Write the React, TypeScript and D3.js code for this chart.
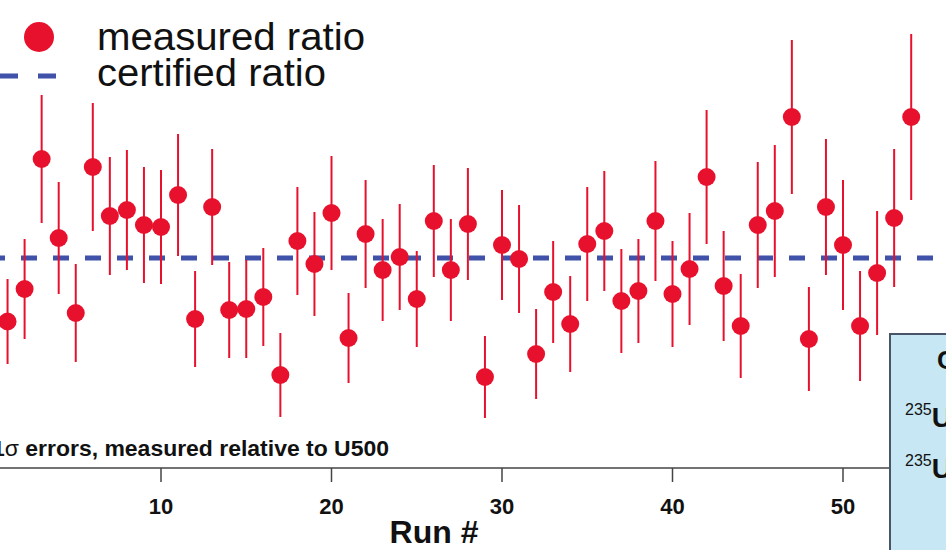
import React, { useEffect, useRef } from 'react';
import * as d3 from 'd3';

// run numbers and measured deviation from the certified ratio (arbitrary units)
const runs = d3.range(1, 55);
const measured = [
  -1.27, -0.62, 1.98, 0.40, -1.10, 1.82, 0.84, 0.96, 0.66, 0.62,
  1.26, -1.22, 1.02, -1.04, -1.02, -0.78, -2.34, 0.34, -0.12, 0.90,
  -1.60, 0.48, -0.24, 0.02, -0.82, 0.74, -0.24, 0.68, -2.38, 0.26,
  -0.02, -1.92, -0.68, -1.32, 0.28, 0.54, -0.86, -0.66, 0.74, -0.72,
  -0.22, 1.62, -0.56, -1.36, 0.66, 0.94, 2.82, -1.62, 1.02, 0.26,
  -1.36, -0.30, 0.80, 2.82,
];
const errors = [
  0.85, 1.00, 1.28, 1.12, 0.98, 1.28, 1.18, 1.20, 1.16, 1.14,
  1.22, 0.96, 1.16, 0.96, 0.98, 0.98, 0.84, 1.08, 1.04, 1.14,
  0.90, 1.08, 1.02, 1.06, 0.96, 1.12, 1.02, 1.12, 0.82, 1.10,
  1.08, 0.90, 1.02, 0.96, 1.14, 1.20, 1.04, 1.04, 1.20, 1.06,
  1.12, 1.34, 1.10, 1.04, 1.26, 1.32, 1.54, 1.04, 1.36, 1.30,
  1.10, 1.24, 1.38, 1.66,
];
const certified = 0;
const xTicks = [10, 20, 30, 40, 50];

const RED = '#e8112d';
const BLUE = '#3f51a8';
const FONT = '"Liberation Sans", Arial, Helvetica, sans-serif';

const App = () => {
  const svgRef = useRef(null);

  useEffect(() => {
    if (!svgRef.current) return;
    const svg = d3.select(svgRef.current);
    svg.selectAll('*').remove();

    const width = 946;
    const axisY = 468;

    const xScale = d3.scaleLinear().domain([0, 56]).range([-9.5, 945.3]);
    const yScale = d3.scaleLinear().domain([-4, 4]).range([458, 58]);

    const data = runs.map((r, i) => ({ run: r, value: measured[i], err: errors[i] }));

    // certified ratio line
    svg.append('line')
      .attr('x1', -11)
      .attr('x2', width)
      .attr('y1', yScale(certified))
      .attr('y2', yScale(certified))
      .attr('stroke', BLUE)
      .attr('stroke-width', 5)
      .attr('stroke-dasharray', '16,16');

    // error bars
    svg.append('g')
      .selectAll('line')
      .data(data)
      .enter().append('line')
      .attr('x1', d => xScale(d.run))
      .attr('x2', d => xScale(d.run))
      .attr('y1', d => yScale(d.value - d.err))
      .attr('y2', d => yScale(d.value + d.err))
      .attr('stroke', RED)
      .attr('stroke-width', 2);

    // points
    svg.append('g')
      .selectAll('circle')
      .data(data)
      .enter().append('circle')
      .attr('cx', d => xScale(d.run))
      .attr('cy', d => yScale(d.value))
      .attr('r', 9)
      .attr('fill', RED);

    // x axis
    const axis = svg.append('g').attr('transform', `translate(0, ${axisY})`);
    axis.append('line')
      .attr('x1', 0)
      .attr('x2', 890)
      .attr('stroke', '#444')
      .attr('stroke-width', 1.5);
    axis.selectAll('.tick')
      .data(xTicks)
      .enter().append('line')
      .attr('x1', d => xScale(d))
      .attr('x2', d => xScale(d))
      .attr('y1', 0)
      .attr('y2', 14)
      .attr('stroke', '#444')
      .attr('stroke-width', 1.5);
    axis.selectAll('.label')
      .data(xTicks)
      .enter().append('text')
      .attr('x', d => xScale(d))
      .attr('y', 46)
      .attr('text-anchor', 'middle')
      .style('font-family', FONT)
      .style('font-weight', 'bold')
      .style('font-size', '22px')
      .style('fill', '#111')
      .text(d => d);

    svg.append('text')
      .attr('x', 434)
      .attr('y', 543)
      .attr('text-anchor', 'middle')
      .style('font-family', FONT)
      .style('font-weight', 'bold')
      .style('font-size', '32px')
      .style('fill', '#111')
      .text('Run #');

    // note above the axis
    const note = svg.append('text')
      .attr('x', -8)
      .attr('y', 456)
      .attr('textLength', 397)
      .attr('lengthAdjust', 'spacingAndGlyphs')
      .style('font-family', FONT)
      .style('font-weight', 'bold')
      .style('font-size', '22px')
      .style('fill', '#111');
    note.append('tspan').text('1');
    note.append('tspan').style('font-weight', 'normal').text('σ');
    note.append('tspan').text(' errors, measured relative to U500');

    // legend
    svg.append('circle')
      .attr('cx', 39)
      .attr('cy', 37)
      .attr('r', 15)
      .attr('fill', RED);
    svg.append('line')
      .attr('x1', 0)
      .attr('x2', 57)
      .attr('y1', 76)
      .attr('y2', 76)
      .attr('stroke', BLUE)
      .attr('stroke-width', 5)
      .attr('stroke-dasharray', '18,20');
    svg.append('text')
      .attr('x', 97)
      .attr('y', 50)
      .attr('textLength', 268)
      .attr('lengthAdjust', 'spacingAndGlyphs')
      .style('font-family', FONT)
      .style('font-size', '38px')
      .style('fill', '#111')
      .text('measured ratio');
    svg.append('text')
      .attr('x', 97)
      .attr('y', 86)
      .attr('textLength', 229)
      .attr('lengthAdjust', 'spacingAndGlyphs')
      .style('font-family', FONT)
      .style('font-size', '38px')
      .style('fill', '#111')
      .text('certified ratio');

    // info box on the right
    svg.append('rect')
      .attr('x', 890)
      .attr('y', 334)
      .attr('width', 80)
      .attr('height', 240)
      .attr('fill', '#c6e7f3')
      .attr('stroke', '#4a5468')
      .attr('stroke-width', 2);
    svg.append('text')
      .attr('x', 937)
      .attr('y', 369)
      .style('font-family', FONT)
      .style('font-weight', 'bold')
      .style('font-size', '26px')
      .style('fill', '#111')
      .text('Certified');
    [427, 478].forEach((y) => {
      const t = svg.append('text')
        .attr('x', 905)
        .attr('y', y)
        .style('font-family', FONT)
        .style('font-weight', 'bold')
        .style('font-size', '28px')
        .style('fill', '#111');
      t.append('tspan')
        .attr('dy', -12)
        .style('font-size', '16px')
        .style('font-weight', 'normal')
        .text('235');
      t.append('tspan')
        .attr('dy', 12)
        .text('U/');
    });
  }, []);

  return (
    <div style={{ position: 'absolute', left: 0, top: 0, width: 946, height: 550, overflow: 'hidden' }}>
      <svg ref={svgRef} width={946} height={550} style={{ display: 'block', background: '#fff' }} />
    </div>
  );
};

export default App;
